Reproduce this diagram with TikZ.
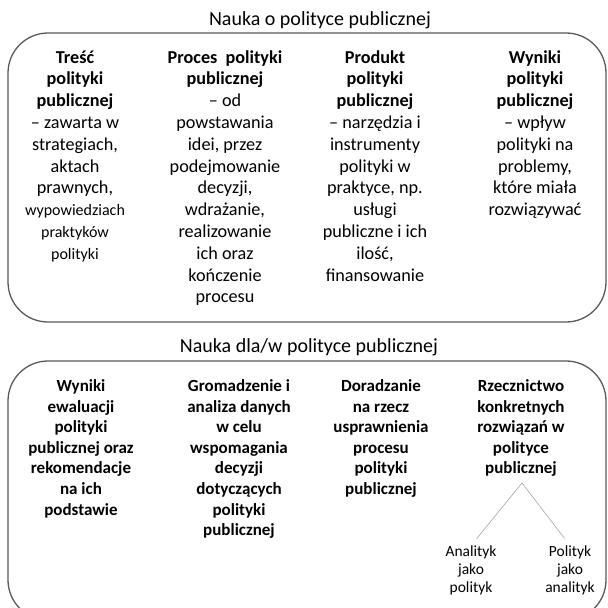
\documentclass[tikz,border=0pt]{standalone}
\usepackage{fontspec}
\setmainfont{Carlito}
\usetikzlibrary{calc}

\tikzset{
  ramka/.style={draw=black!65, line width=1.3pt, rounded corners=40pt},
  tytul/.style={inner sep=0pt, font=\fontsize{20}{24}\selectfont},
  kolumna/.style={anchor=base, align=center, inner sep=0pt, font=\fontsize{18.2}{21.8}\selectfont},
  kolumnab/.style={anchor=base, align=center, inner sep=0pt, font=\fontsize{17}{20.6}\selectfont\bfseries},
  lisc/.style={anchor=base, align=center, inner sep=0pt, font=\fontsize{15.5}{18}\selectfont},
  galaz/.style={draw=black!35, line width=0.6pt}
}
\newcommand{\mniej}[1]{{\fontsize{16}{21.8}\selectfont #1}}

\begin{document}
\begin{tikzpicture}[x=1pt,y=-1pt]
        \useasboundingbox (0,0) rectangle (608,608);
        \clip (0,0) rectangle (608,608);
        % gorna czesc (kotwica = linia bazowa ostatniego wiersza)
        \node[tytul] (nauka) at (320,20) {Nauka o polityce publicznej};
        \draw[ramka] (8,33) rectangle (606,322);
        \node[kolumna] (tresc) at (75,259.2) {\textbf{Treść}\\\textbf{polityki}\\\textbf{publicznej}\\– zawarta w\\strategiach,\\aktach\\prawnych,\\\mniej{wypowiedziach}\\\mniej{praktyków}\\\mniej{polityki}};
        \node[kolumna] (proces) at (225,302.8) {\textbf{Proces\ \ polityki}\\\textbf{publicznej}\\– od\\powstawania\\idei, przez\\podejmowanie\\decyzji,\\wdrażanie,\\realizowanie\\ich oraz\\kończenie\\procesu};
        \node[kolumna] (produkt) at (375,281) {\textbf{Produkt}\\\textbf{polityki}\\\textbf{publicznej}\\– narzędzia i\\instrumenty\\polityki w\\praktyce, np.\\usługi\\publiczne i ich\\ilość,\\finansowanie};
        \node[kolumna] (wyniki) at (535,215.6) {\textbf{Wyniki}\\\textbf{polityki}\\\textbf{publicznej}\\– wpływ\\polityki na\\problemy,\\które miała\\rozwiązywać};
        % dolna czesc
        \node[tytul] (naukadla) at (309,347) {Nauka dla/w polityce publicznej};
        \draw[ramka] (8,361) rectangle (606,620);
        \node[kolumnab] (ewal) at (81,515.1) {Wyniki\\ewaluacji\\polityki\\publicznej oraz\\rekomendacje\\na ich\\podstawie};
        \node[kolumnab] (dane) at (239,535.7) {Gromadzenie i\\analiza danych\\w celu\\wspomagania\\decyzji\\dotyczących\\polityki\\publicznej};
        \node[kolumnab] (dorad) at (381,494.5) {Doradzanie\\na rzecz\\usprawnienia\\procesu\\polityki\\publicznej};
        \node[kolumnab] (rzecz) at (521,473.9) {Rzecznictwo\\konkretnych\\rozwiązań w\\polityce\\publicznej};
        \coordinate (szczyt) at (522,483);
        \node[lisc] (anal) at (471,592.5) {Analityk\\jako\\polityk};
        \node[lisc] (polit) at (570,592.5) {Polityk\\jako\\analityk};
        \draw[galaz, shorten >=9pt] (szczyt) -- (anal.north);
        \draw[galaz, shorten >=9pt] (szczyt) -- (polit.north);
    \end{tikzpicture}
\end{document}
